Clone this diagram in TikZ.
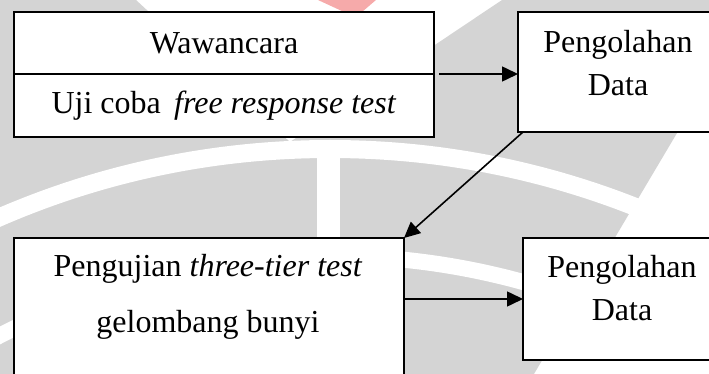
\documentclass[tikz,border=0pt]{standalone}
\usepackage{fontspec}
\setmainfont{Liberation Serif}
\usetikzlibrary{arrows.meta, positioning}
\definecolor{MarkGray}{RGB}{212,212,212}
\definecolor{MarkRed}{RGB}{246,170,170}
\tikzset{
  box/.style={draw, line width=0.8pt, fill=white, inner sep=0pt, outer sep=0pt},
  lbl/.style={align=center, font=\fontsize{16pt}{21.5pt}\selectfont},
  arr/.style={line width=0.8pt, -{Triangle[length=8pt, width=7.5pt]}}
}

\begin{document}
\begin{tikzpicture}[x=0.5pt, y=-0.5pt]
  \useasboundingbox (0,0) rectangle (709,374);
  \clip (0,0) rectangle (709,374);

  % Faint emblem behind the chart
  \fill[MarkGray] (0,0) -- (136,0) -- (290,142) -- (502,0) -- (756,0) -- (534,374) -- (0,374) -- cycle;
  \fill[MarkRed] (318,0) -- (376,0) -- (362,12) -- (344,12) -- cycle;
  \draw[white, line width=9pt] (330,980) circle (831);
  \draw[white, line width=8pt] (330,980) circle (724);
  \fill[white] (317,150) rectangle (340,240);

  % Interview and trial box (two stacked cells)
  \node[box, lbl, minimum width=210pt, minimum height=31pt] (wawancara) at (224,43) {Wawancara};
  \node[box, lbl, minimum width=210pt, minimum height=31.5pt, below=0pt of wawancara] (ujicoba) {Uji coba\, \textit{free response test}};

  % First data processing
  \node[box, minimum width=100pt, minimum height=60pt] (olah1) at (618,72) {};
  \node[lbl] (olah1txt) at (618,63) {Pengolahan\\Data};

  % Three-tier test
  \node[box, minimum width=195pt, minimum height=86pt] (pengujian) at (209,324) {};
  \node[lbl, font=\fontsize{16pt}{28pt}\selectfont] (pengujiantxt) at (208,297) {Pengujian \textit{three-tier test}\\gelombang bunyi};

  % Second data processing
  \node[box, minimum width=99pt, minimum height=61pt] (olah2) at (622,299) {};
  \node[lbl] (olah2txt) at (622,288) {Pengolahan\\Data};

  % Arrows
  \draw[arr] ([xshift=2.5pt]wawancara.south east) -- (olah1.west |- wawancara.south);
  \draw[arr] ([xshift=2.5pt]olah1.south west) -- (pengujian.north east);
  \draw[arr] (olah2.west -| pengujian.east) -- (olah2.west);
\end{tikzpicture}
\end{document}
